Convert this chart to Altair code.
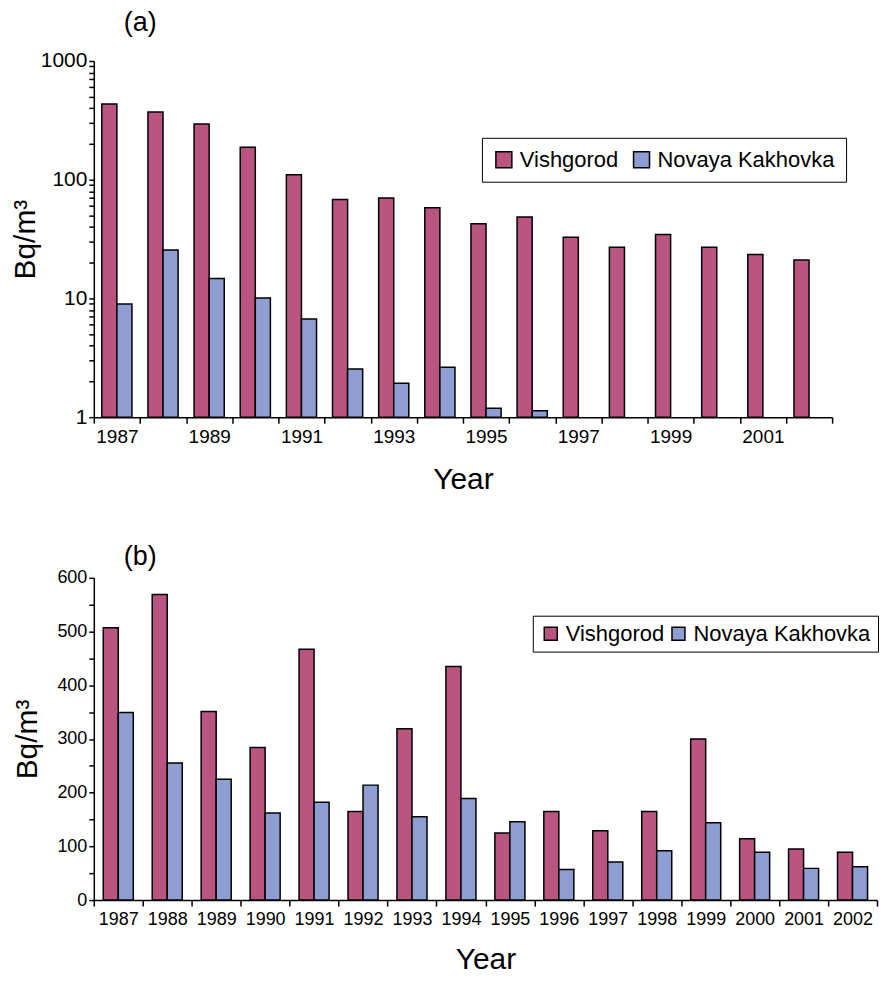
import altair as alt
import pandas as pd

years = list(range(1987, 2003))
sites = ["Vishgorod", "Novaya Kakhovka"]

# panel (a) - log scale
a_vishgorod = [435, 371, 295, 188, 110, 68, 70, 58, 42.5, 48.6, 32.7, 27, 34.5, 27, 23.4, 21.1]
a_kakhovka = [9.0, 25.6, 14.7, 10.1, 6.7, 2.55, 1.93, 2.63, 1.19, 1.13, None, None, None, None, None, None]

# panel (b) - linear scale
b_vishgorod = [507, 569, 351, 284, 467, 165, 319, 435, 125, 165, 129, 165, 300, 114, 95, 89]
b_kakhovka = [349, 255, 225, 162, 182, 214, 155, 189, 146, 57, 71, 92, 144, 89, 59, 62]

panel_labels = ["(a)", "(b)"]

colors = ["#B9557F", "#8E9ED3"]
FONT = "Liberation Sans"


def long_df(v, k):
    rows = []
    for y, a, b in zip(years, v, k):
        if a is not None:
            rows.append({"year": y, "site": sites[0], "value": a})
        if b is not None:
            rows.append({"year": y, "site": sites[1], "value": b})
    return pd.DataFrame(rows)


df_a = long_df(a_vishgorod, a_kakhovka)
df_b = long_df(b_vishgorod, b_kakhovka)

log_ticks = [1, 2, 3, 4, 5, 6, 7, 8, 9, 10, 20, 30, 40, 50, 60, 70, 80, 90,
             100, 200, 300, 400, 500, 600, 700, 800, 900, 1000]

bars_a = alt.Chart(df_a).mark_bar(stroke="black", strokeWidth=1.5).encode(
    x=alt.X("year:O", scale=alt.Scale(paddingInner=0, paddingOuter=0),
            axis=alt.Axis(title="Year", labelAngle=0, tickBand="extent",
                          labelExpr="datum.value % 2 == 1 ? datum.label : ''",
                          labelFontSize=19, titleFontSize=30, titleFontWeight="normal",
                          titlePadding=18, tickSize=6, labelPadding=4)),
    xOffset=alt.XOffset("site:N", sort=sites, scale=alt.Scale(paddingOuter=0.53)),
    y=alt.Y("value:Q", scale=alt.Scale(type="log", domain=[1, 1000]),
            axis=alt.Axis(title="Bq/m³", values=log_ticks,
                          labelExpr="(datum.value == 1 || datum.value == 10 || datum.value == 100 || datum.value == 1000) ? format(datum.value, 'd') : ''",
                          labelFontSize=21, titleFontSize=30, titleFontWeight="normal",
                          titlePadding=0, tickSize=5, grid=False)),
    y2=alt.datum(1),
    color=alt.Color("site:N", sort=sites, scale=alt.Scale(domain=sites, range=colors),
                    legend=alt.Legend(title=None, orient="none", legendX=389, legendY=77,
                                      direction="horizontal", strokeColor="black",
                                      fillColor="white", padding=11, labelFontSize=22,
                                      labelLimit=0,
                                      symbolType="square", symbolSize=256,
                                      symbolStrokeColor="black", symbolStrokeWidth=1.5,
                                      columnPadding=12, labelOffset=5)),
)

label_a = alt.Chart(pd.DataFrame({"t": [panel_labels[0]]})).mark_text(
    align="left", baseline="top", fontSize=27, font=FONT, color="black"
).encode(text="t:N", x=alt.value(30), y=alt.value(-51))

chart_a = alt.layer(bars_a, label_a).properties(width=740, height=357)

bars_b = alt.Chart(df_b).mark_bar(stroke="black", strokeWidth=1.5).encode(
    x=alt.X("year:O", scale=alt.Scale(paddingInner=0, paddingOuter=0),
            axis=alt.Axis(title="Year", labelAngle=0, tickBand="extent",
                          labelFontSize=18, titleFontSize=30, titleFontWeight="normal",
                          titlePadding=17, tickSize=6, labelPadding=4)),
    xOffset=alt.XOffset("site:N", sort=sites, scale=alt.Scale(paddingOuter=0.63)),
    y=alt.Y("value:Q", scale=alt.Scale(domain=[0, 600]),
            axis=alt.Axis(title="Bq/m³", values=list(range(0, 601, 50)),
                          labelExpr="datum.value % 100 == 0 ? datum.label : ''",
                          labelFontSize=18, titleFontSize=30, titleFontWeight="normal",
                          titlePadding=14, tickSize=5, grid=False)),
    color=alt.Color("site:N", sort=sites, scale=alt.Scale(domain=sites, range=colors),
                    legend=alt.Legend(title=None, orient="none", legendX=440, legendY=38,
                                      direction="horizontal", strokeColor="black",
                                      fillColor="white", padding=7, labelFontSize=22,
                                      labelLimit=0,
                                      symbolType="square", symbolSize=169,
                                      symbolStrokeColor="black", symbolStrokeWidth=1.5,
                                      columnPadding=3, labelOffset=4)),
)

label_b = alt.Chart(pd.DataFrame({"t": [panel_labels[1]]})).mark_text(
    align="left", baseline="top", fontSize=27, font=FONT, color="black"
).encode(text="t:N", x=alt.value(30), y=alt.value(-34))

chart_b = alt.layer(bars_b, label_b).properties(width=785, height=323)

chart = alt.vconcat(chart_a, chart_b, spacing=49).resolve_scale(
    color="independent", x="independent", y="independent", xOffset="independent"
).properties(padding={"left": 2, "top": 0, "right": 0, "bottom": 0}).configure(font=FONT).configure_axis(
    domainColor="black", tickColor="black", labelColor="black", titleColor="black",
    domainWidth=1.5, tickWidth=1.5, labelFont=FONT, titleFont=FONT
).configure_legend(labelColor="black", labelFont=FONT).configure_title(
    color="black", font=FONT
).configure_view(stroke=None)

chart.save("out.html", embed_options={"renderer": "svg", "actions": False})
